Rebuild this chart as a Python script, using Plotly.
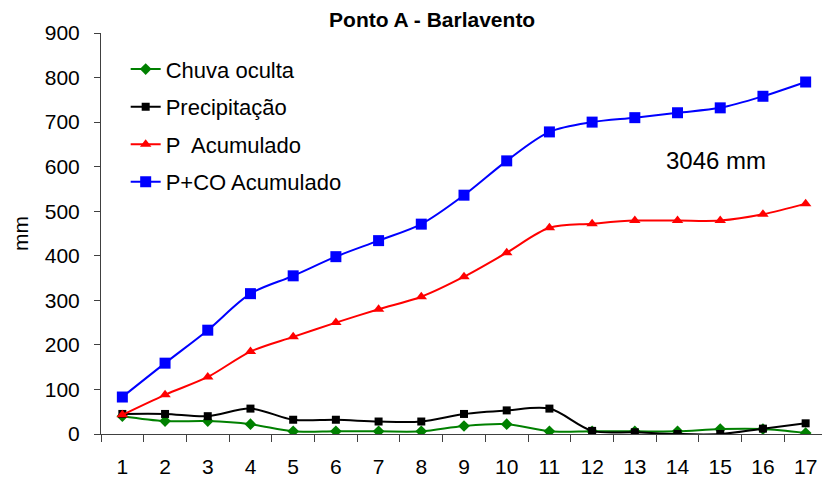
import plotly.graph_objects as go

categories = [str(i) for i in range(1, 18)]
chuva_oculta = [40, 29, 29, 22, 6, 6, 6, 6, 18, 22, 6, 6, 6, 6, 11, 11, 2]
precipitacao = [45, 45, 40, 57, 32, 32, 28, 28, 45, 53, 57, 7, 4, 0, 0, 12, 24]
p_acumulado = [43, 88, 128, 185, 218, 250, 280, 308, 353, 407, 463, 472, 479, 479, 479, 493, 517]
pco_acumulado = [83, 159, 233, 315, 355, 398, 434, 471, 536, 613, 678, 700, 710, 721, 732, 758, 790]

FONT = "Liberation Sans, Arial, sans-serif"
AXIS = "#404040"

fig = go.Figure()
series = [
    ("Chuva oculta", chuva_oculta, "#008000", "diamond", 9),
    ("Precipitação", precipitacao, "#000000", "square", 8),
    ("P  Acumulado", p_acumulado, "#FF0000", "triangle-up", 10),
    ("P+CO Acumulado", pco_acumulado, "#0000FF", "square", 11),
]
for name, vals, color, sym, size in series:
    fig.add_trace(go.Scatter(
        x=categories, y=vals, name=name, mode="lines+markers",
        line=dict(color=color, width=2, shape="spline", smoothing=0.9),
        marker=dict(color=color, symbol=sym, size=size),
        legendgroup=name,
    ))

fig.add_annotation(x=0.847, y=0.681, xref="paper", yref="paper", text="3046 mm",
                   xanchor="center", yanchor="middle",
                   showarrow=False, font=dict(size=24, color="black", family=FONT))

fig.update_layout(
    width=822, height=476,
    margin=dict(l=93, r=3, t=25, b=50),
    paper_bgcolor="white", plot_bgcolor="white",
    font=dict(family=FONT, color="black", size=21),
    title=dict(text="<b>Ponto A - Barlavento</b>", x=0.516, xanchor="center", y=0.975, yanchor="middle",
               font=dict(size=21, family=FONT)),
    showlegend=True,
    legend=dict(x=0.034, y=0.962, xanchor="left", yanchor="top", bgcolor="rgba(0,0,0,0)",
                font=dict(size=22, family=FONT), tracegroupgap=6),
    xaxis=dict(type="category", range=[-0.5, 16.5], tickson="boundaries", ticks="outside", ticklen=7,
               tickcolor=AXIS, showline=True, linecolor=AXIS, linewidth=1,
               showgrid=False, tickfont=dict(size=21), ticklabelstandoff=14),
    yaxis=dict(range=[0, 900], dtick=100, ticks="outside", ticklen=6, tickcolor=AXIS,
               showline=True, linecolor=AXIS, linewidth=1, showgrid=False, zeroline=False,
               tickfont=dict(size=21), ticklabelstandoff=10,
               title=dict(text="mm", font=dict(size=21), standoff=10)),
)

fig.write_html("out.html")
